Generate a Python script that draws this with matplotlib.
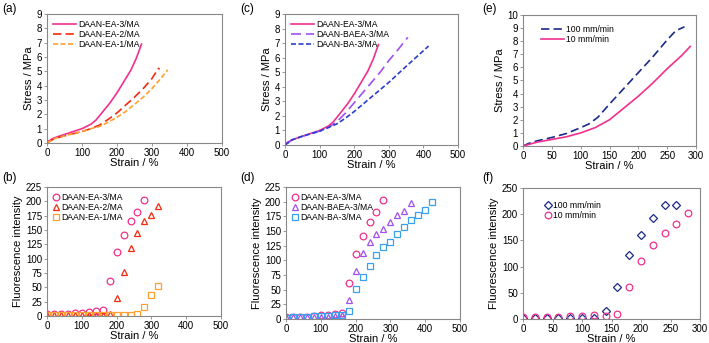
import matplotlib
matplotlib.use('Agg')
import matplotlib.pyplot as plt

plt.rcParams['font.family'] = ['Liberation Sans', 'DejaVu Sans']

# ---- stress-strain curves ----
ea3_x = [0, 5, 20, 50, 75, 100, 125, 140, 160, 180, 200, 220, 240, 255, 270]
ea3_y = [0, 0.15, 0.35, 0.6, 0.8, 1.0, 1.3, 1.6, 2.2, 2.8, 3.5, 4.3, 5.1, 5.9, 6.9]
ea2_x = [0, 20, 50, 100, 125, 150, 175, 200, 225, 250, 275, 300, 318, 322]
ea2_y = [0, 0.3, 0.5, 0.8, 1.0, 1.25, 1.65, 2.1, 2.65, 3.2, 3.8, 4.5, 5.2, 5.15]
ea1_x = [0, 20, 50, 100, 125, 150, 175, 200, 225, 250, 275, 300, 325, 345]
ea1_y = [0, 0.3, 0.5, 0.8, 1.0, 1.15, 1.45, 1.8, 2.2, 2.7, 3.2, 3.8, 4.5, 5.1]

baea3_x = [0, 20, 50, 100, 125, 150, 175, 200, 225, 250, 275, 300, 325, 355]
baea3_y = [0, 0.35, 0.6, 0.95, 1.2, 1.6, 2.2, 2.9, 3.6, 4.3, 5.0, 5.8, 6.5, 7.4]
ba3_x = [0, 20, 50, 100, 125, 150, 175, 200, 250, 300, 350, 415]
ba3_y = [0, 0.35, 0.6, 0.95, 1.2, 1.45, 1.85, 2.3, 3.3, 4.3, 5.4, 6.8]

r100_x = [0, 10, 25, 50, 75, 100, 115, 130, 150, 175, 200, 225, 250, 265, 280]
r100_y = [0, 0.2, 0.4, 0.65, 0.95, 1.4, 1.7, 2.2, 3.2, 4.4, 5.6, 6.8, 8.1, 8.8, 9.1]
r10_x = [0, 25, 50, 75, 100, 125, 150, 175, 200, 225, 250, 275, 290]
r10_y = [0, 0.3, 0.5, 0.7, 1.0, 1.4, 2.0, 2.9, 3.8, 4.8, 5.9, 6.9, 7.6]

# ---- fluorescence intensity ----
f_ea3_x = list(range(0, 281, 20))
f_ea3_y = [3, 4, 4, 4, 5, 6, 7, 8, 10, 61, 111, 142, 165, 182, 202]
f_ea2_x = list(range(0, 321, 20))
f_ea2_y = [1, 1, 1, 1, 1, 1, 1, 1, 1, 3, 32, 77, 119, 145, 165, 177, 191]
f_ea1_x = list(range(0, 321, 20))
f_ea1_y = [2, 1, 1, 1, 1, 1, 1, 1, 1, 1, 1, 2, 1, 3, 15, 37, 53]
f_baea3_x = list(range(0, 361, 20))
f_baea3_y = [3, 3, 3, 3, 4, 4, 4, 5, 7, 33, 82, 113, 132, 145, 153, 166, 177, 184, 198]
f_ba3_x = list(range(0, 421, 20))
f_ba3_y = [2, 3, 4, 3, 5, 5, 5, 6, 7, 14, 51, 72, 90, 109, 123, 131, 145, 156, 169, 178, 185, 199]
f_r100_x = list(range(0, 261, 20))
f_r100_y = [1, 1, 1, 1, 1, 1, 2, 15, 61, 122, 160, 192, 217, 218]
f_r10_x = list(range(0, 281, 20))
f_r10_y = [3, 4, 4, 4, 5, 6, 7, 6, 10, 61, 111, 142, 165, 182, 202]

PINK = '#f0308c'
RED = '#f52a10'
ORANGE = '#ffa030'
PURPLE = '#a050f0'
BLUE = '#2a3ed0'
LBLUE = '#39a0ee'
NAVY = '#1c2a88'

LAB = 8
W, H = 709, 343
fig = plt.figure(figsize=(W / 100, H / 100), dpi=100)


def make_ax(l, t, r, b):
    ax = fig.add_axes([l / W, 1 - b / H, (r - l) / W, (b - t) / H])
    for s in ax.spines.values():
        s.set_color('#888888')
        s.set_linewidth(0.8)
    ax.tick_params(labelsize=7, length=2, width=0.6, color='#888888', pad=1.5)
    return ax


def line_legend(ax, **kw):
    ax.legend(loc='upper left', frameon=False, fontsize=6.2, handlelength=2.7,
              handletextpad=0.2, labelspacing=0.12, borderaxespad=0.3, **kw)


def mark_legend(ax, **kw):
    ax.legend(loc='upper left', frameon=False, fontsize=6.2, handlelength=0.8,
              handletextpad=0.1, labelspacing=0.12, borderaxespad=0.3, **kw)


def labels(ax, ylab):
    ax.set_xlabel('Strain / %', fontsize=LAB, labelpad=0)
    ax.set_ylabel(ylab, fontsize=LAB, labelpad=2)


# (a)
ax = make_ax(47, 14, 222, 143)
ax.plot(ea3_x, ea3_y, color=PINK, lw=1.2, label='DAAN-EA-3/MA')
ax.plot(ea2_x, ea2_y, color=RED, lw=1.2, dashes=(5, 2.5), label='DAAN-EA-2/MA')
ax.plot(ea1_x, ea1_y, color=ORANGE, lw=1.2, dashes=(3, 1.5), label='DAAN-EA-1/MA')
ax.set_xlim(0, 500); ax.set_ylim(0, 9)
ax.set_xticks(range(0, 501, 100)); ax.set_yticks(range(0, 10))
labels(ax, 'Stress / MPa')
line_legend(ax)

# (c)
ax = make_ax(285, 14, 458, 145)
ax.plot(ea3_x, ea3_y, color=PINK, lw=1.2, label='DAAN-EA-3/MA')
ax.plot(baea3_x, baea3_y, color=PURPLE, lw=1.2, dashes=(6, 3), label='DAAN-BAEA-3/MA')
ax.plot(ba3_x, ba3_y, color=BLUE, lw=1.2, dashes=(3, 1.5), label='DAAN-BA-3/MA')
ax.set_xlim(0, 500); ax.set_ylim(0, 9)
ax.set_xticks(range(0, 501, 100)); ax.set_yticks(range(0, 10))
labels(ax, 'Stress / MPa')
line_legend(ax)

# (e)
ax = make_ax(523, 15, 696, 146)
ax.plot(r100_x, r100_y, color=NAVY, lw=1.2, dashes=(5, 2.5), label='100 mm/min')
ax.plot(r10_x, r10_y, color=PINK, lw=1.2, label='10 mm/min')
ax.set_xlim(0, 300); ax.set_ylim(0, 10)
ax.set_xticks(range(0, 301, 50)); ax.set_yticks(range(0, 11))
labels(ax, 'Stress / MPa')
line_legend(ax, bbox_to_anchor=(0.07, 0.97))

mk = dict(linestyle='none', markerfacecolor='none', markersize=4.8, markeredgewidth=0.9)

# (b)
ax = make_ax(47, 187, 221, 316)
ax.plot(f_ea3_x, f_ea3_y, marker='o', color=PINK, label='DAAN-EA-3/MA', **mk)
ax.plot(f_ea2_x, f_ea2_y, marker='^', color=RED, label='DAAN-EA-2/MA', **mk)
ax.plot(f_ea1_x, f_ea1_y, marker='s', color=ORANGE, label='DAAN-EA-1/MA', **mk)
ax.set_xlim(0, 500); ax.set_ylim(0, 225)
ax.set_xticks(range(0, 501, 100)); ax.set_yticks(range(0, 226, 25))
labels(ax, 'Fluorescence intensity')
mark_legend(ax)

# (d)
ax = make_ax(286, 187, 460, 319)
ax.plot(f_ea3_x, f_ea3_y, marker='o', color=PINK, label='DAAN-EA-3/MA', **mk)
ax.plot(f_baea3_x, f_baea3_y, marker='^', color=PURPLE, label='DAAN-BAEA-3/MA', **mk)
ax.plot(f_ba3_x, f_ba3_y, marker='s', color=LBLUE, label='DAAN-BA-3/MA', **mk)
ax.set_xlim(0, 500); ax.set_ylim(0, 225)
ax.set_xticks(range(0, 501, 100)); ax.set_yticks(range(0, 226, 25))
labels(ax, 'Fluorescence intensity')
mark_legend(ax)

# (f)
ax = make_ax(523, 188, 700, 319)
ax.plot(f_r100_x, f_r100_y, marker='D', color=NAVY, label='100 mm/min',
        linestyle='none', markerfacecolor='none', markersize=3.7, markeredgewidth=0.9)
ax.plot(f_r10_x, f_r10_y, marker='o', color=PINK, label='10 mm/min', **mk)
ax.set_xlim(0, 300); ax.set_ylim(0, 250)
ax.set_xticks(range(0, 301, 50)); ax.set_yticks(range(0, 251, 50))
labels(ax, 'Fluorescence intensity')
mark_legend(ax, bbox_to_anchor=(0.09, 0.95))

# panel letters
for lbl, x, y in [('(a)', 2, 3), ('(c)', 240, 3), ('(e)', 482, 3),
                  ('(b)', 2, 172), ('(d)', 240, 172), ('(f)', 482, 172)]:
    fig.text(x / W, 1 - y / H, lbl, fontsize=8.5, va='top', ha='left')

fig.savefig('out.png', dpi=100)
